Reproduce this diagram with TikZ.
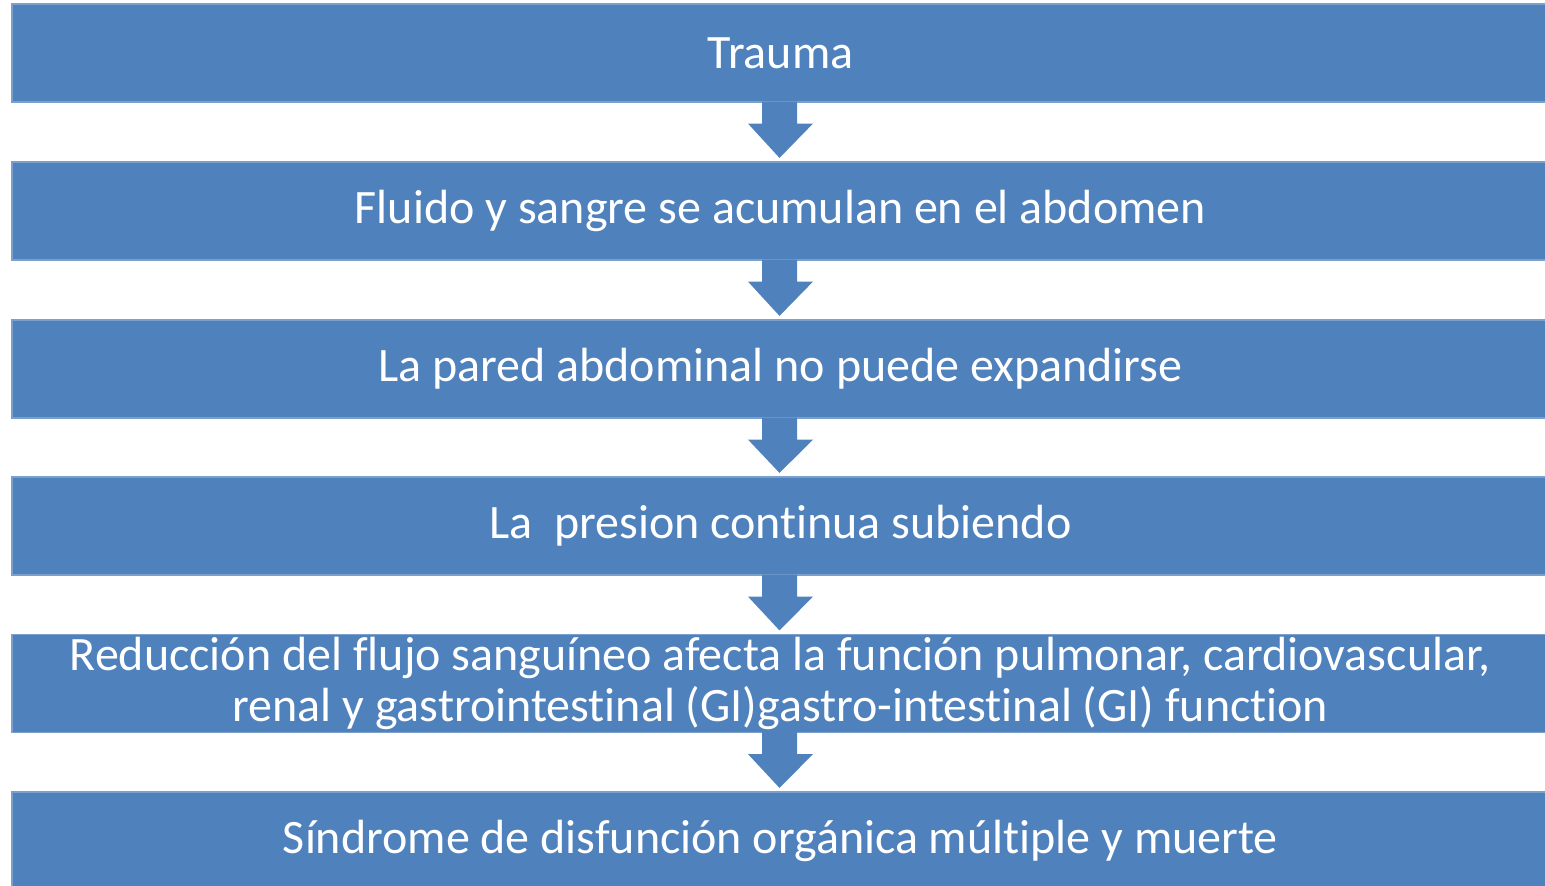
\documentclass[tikz,border=0pt]{standalone}
\usepackage{fontspec}
\setmainfont[Ligatures={NoCommon}]{Carlito}
\usetikzlibrary{calc}
\definecolor{barblue}{HTML}{4F81BD}
\tikzset{bar/.style={rectangle,fill=barblue,draw=barblue!75!white,line width=0.6pt,minimum width=768.5pt,minimum height=49pt,inner sep=0pt,text=white,align=center,font=\fontsize{24}{25.5}\selectfont}}
\newcommand{\flowarrow}[2]{%
  \fill[barblue] ($(#1.south)+(-18.5,-1)$) -- ++(0,22) -- ++(-14,0) -- ($(#2.north)+(-1,-3.5)$) -- ($(#1.south)+(32.5,21)$) -- ++(-16,0) -- ++(0,-22) -- cycle;}
\begin{document}
\begin{tikzpicture}[x=0.5pt,y=-0.5pt]

      \useasboundingbox (0,0) rectangle (1545,885);
      \node[bar] (trauma) at (780.5,53){Trauma};
      \node[bar] (fluido) at (780.5,211){Fluido y sangre se acumulan en el abdomen};
      \node[bar] (pared) at (780.5,369){La pared abdominal no puede expandirse};
      \node[bar] (presion) at (780.5,526){La\ \ presion continua subiendo};
      \node[bar] (flujo) at (780.5,683.5){Reducción del flujo sanguíneo afecta la función pulmonar, cardiovascular,\\renal y gastrointestinal (GI)gastro-intestinal (GI) function};
      \node[bar] (sindrome) at (780.5,841){Síndrome de disfunción orgánica múltiple y muerte};

      \flowarrow{trauma}{fluido}
      \flowarrow{fluido}{pared}
      \flowarrow{pared}{presion}
      \flowarrow{presion}{flujo}
      \flowarrow{flujo}{sindrome}

    \end{tikzpicture}
\end{document}
